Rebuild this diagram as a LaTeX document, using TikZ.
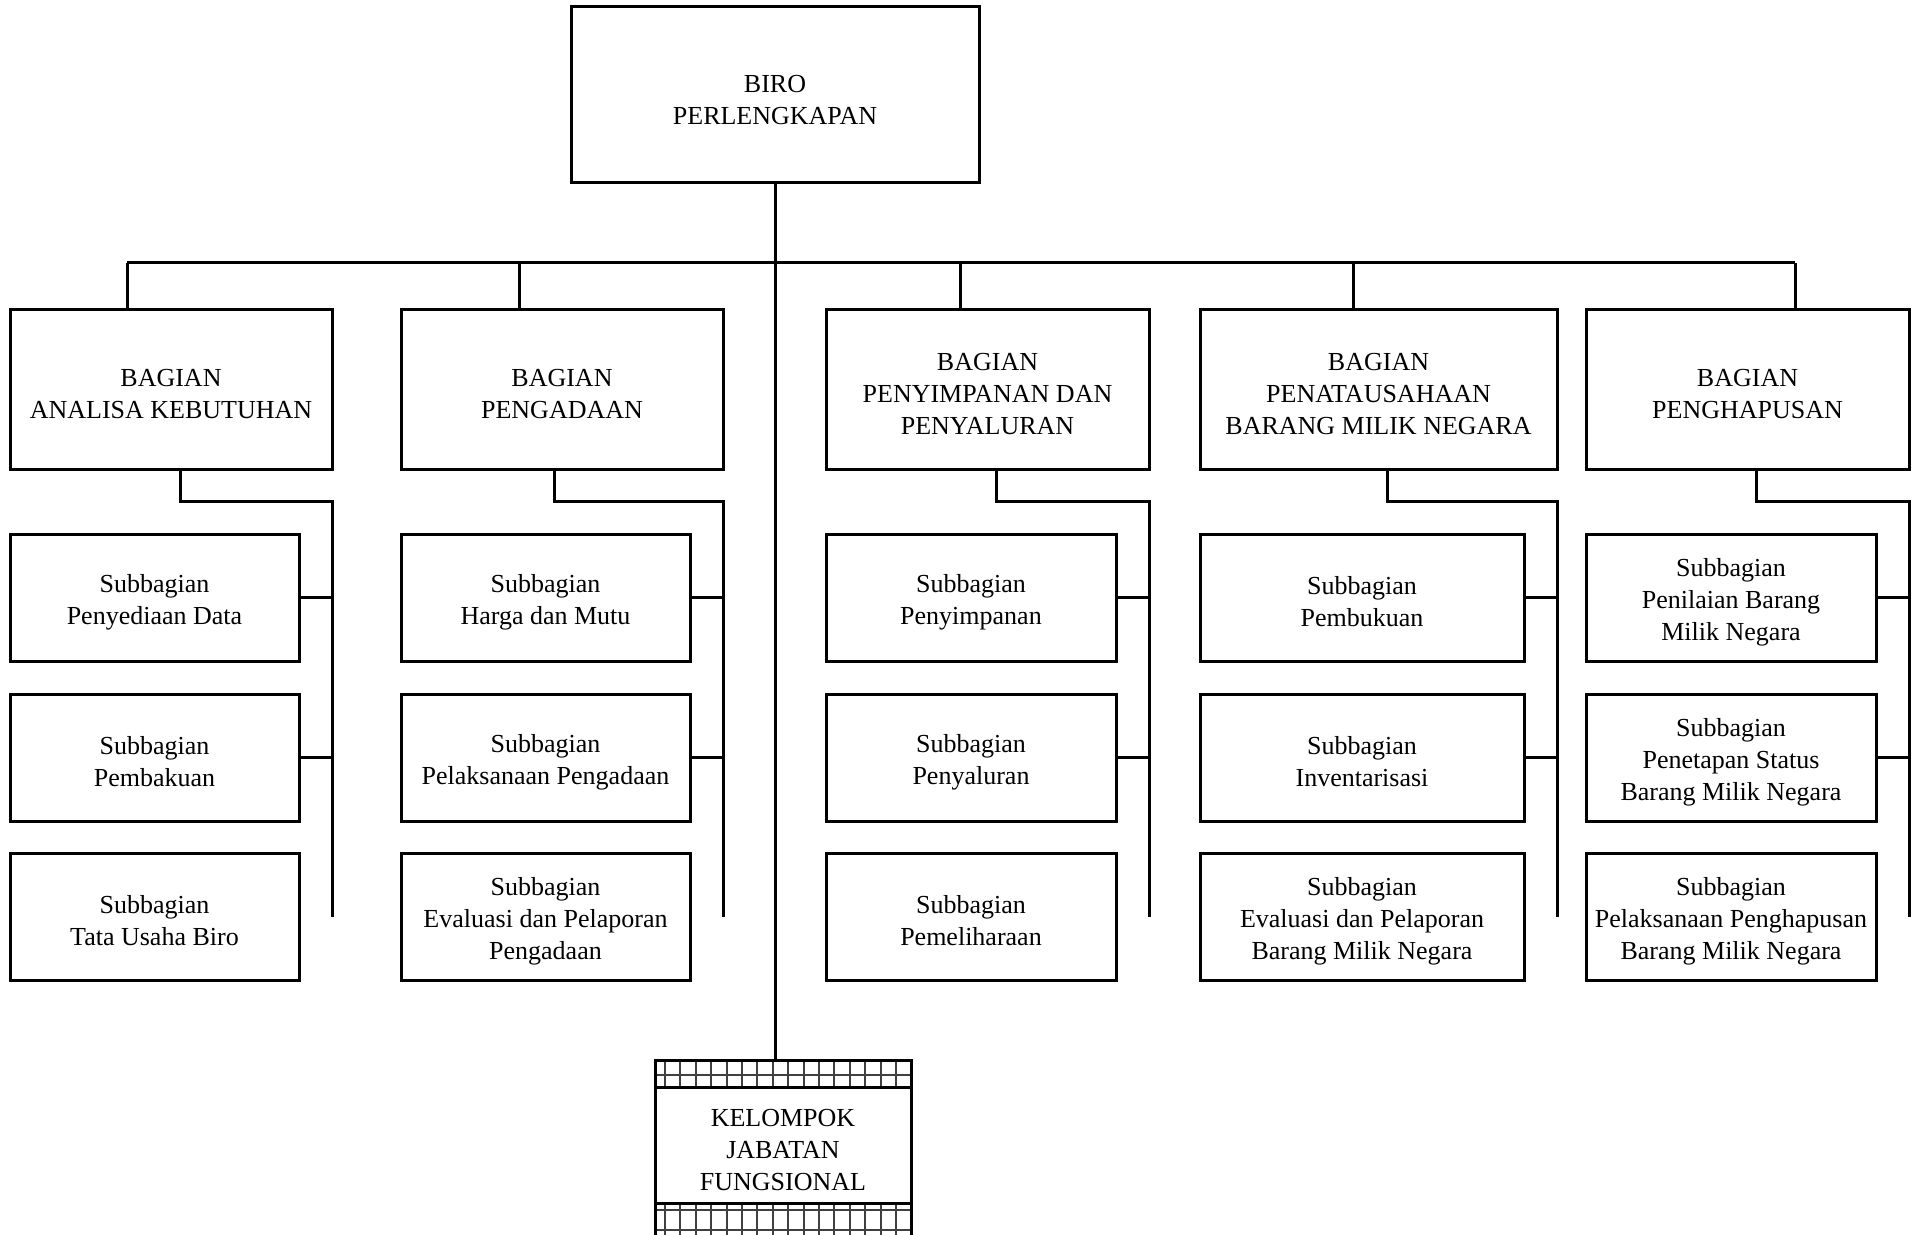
\documentclass[tikz,border=0pt]{standalone}
\usepackage{fontspec}
\setmainfont{Liberation Serif}
% taller first line, lowers the text block a little inside each box
\newcommand{\topstrut}{\rule{0pt}{13.5pt}}
\begin{document}
\begin{tikzpicture}[x=0.5pt,y=-0.5pt,
  box/.style={draw, line width=1.5pt, inner sep=0pt, outer sep=0pt,
              align=center, font=\fontsize{13}{16}\selectfont},
  bag/.style={box, minimum height=79.5pt},
  sub/.style={box, minimum height=63.5pt},
  link/.style={line width=1.5pt},
  gridline/.style={line width=1pt, draw=black!75}]
\useasboundingbox (0,0) rectangle (1916,1235);

% head of the bureau
\node[box, minimum width=204pt, minimum height=88pt] (biro) at (775,95) {\topstrut BIRO\\PERLENGKAPAN};

% divisions
\node[bag, minimum width=161pt]   (b1) at (171,389.5)    {\topstrut BAGIAN\\ANALISA KEBUTUHAN};
\node[bag, minimum width=161pt]   (b2) at (562,389.5)    {\topstrut BAGIAN\\PENGADAAN};
\node[bag, minimum width=161.5pt] (b3) at (987.5,389.5)  {\topstrut BAGIAN\\PENYIMPANAN DAN\\PENYALURAN};
\node[bag, minimum width=178.5pt] (b4) at (1378.5,389.5) {\topstrut BAGIAN\\PENATAUSAHAAN\\BARANG MILIK NEGARA};
\node[bag, minimum width=161.5pt] (b5) at (1747.5,389.5) {\topstrut BAGIAN\\PENGHAPUSAN};

% sub-divisions
\node[sub, minimum width=144.5pt] (s11) at (154.5,597.5) {\topstrut Subbagian\\Penyediaan Data};
\node[sub, minimum width=144.5pt] (s12) at (154.5,757.5) {\topstrut Subbagian\\Pembakuan};
\node[sub, minimum width=144.5pt] (s13) at (154.5,916.5) {\topstrut Subbagian\\Tata Usaha Biro};

\node[sub, minimum width=144.5pt] (s21) at (545.5,597.5) {\topstrut Subbagian\\Harga dan Mutu};
\node[sub, minimum width=144.5pt] (s22) at (545.5,757.5) {\topstrut Subbagian\\Pelaksanaan Pengadaan};
\node[sub, minimum width=144.5pt] (s23) at (545.5,916.5) {\topstrut Subbagian\\Evaluasi dan Pelaporan\\Pengadaan};

\node[sub, minimum width=145pt] (s31) at (971,597.5) {\topstrut Subbagian\\Penyimpanan};
\node[sub, minimum width=145pt] (s32) at (971,757.5) {\topstrut Subbagian\\Penyaluran};
\node[sub, minimum width=145pt] (s33) at (971,916.5) {\topstrut Subbagian\\Pemeliharaan};

\node[sub, minimum width=162pt] (s41) at (1362,597.5) {\topstrut Subbagian\\Pembukuan};
\node[sub, minimum width=162pt] (s42) at (1362,757.5) {\topstrut Subbagian\\Inventarisasi};
\node[sub, minimum width=162pt] (s43) at (1362,916.5) {\topstrut Subbagian\\Evaluasi dan Pelaporan\\Barang Milik Negara};

\node[sub, minimum width=145pt] (s51) at (1731,597.5) {\topstrut Subbagian\\Penilaian Barang\\Milik Negara};
\node[sub, minimum width=145pt] (s52) at (1731,757.5) {\topstrut Subbagian\\Penetapan Status\\Barang Milik Negara};
\node[sub, minimum width=145pt] (s53) at (1731,916.5) {\topstrut Subbagian\\Pelaksanaan Penghapusan\\Barang Milik Negara};

% functional group
\node[box, minimum width=128pt, minimum height=58pt] (kel) at (783,1145) {\topstrut KELOMPOK\\JABATAN\\FUNGSIONAL};
\coordinate (kt) at (655,1060);

% hatched bands above and below the functional group
\foreach \k in {0,...,15}
  \draw[gridline] (665+15.4*\k,1060) -- (665+15.4*\k,1087);
\draw[gridline] (655,1075) -- (911,1075);
\draw[link] (kt) rectangle (911,1087);
\begin{scope}
  \clip (0,0) rectangle (1916,1235);
  \foreach \k in {0,...,15}
    \draw[gridline] (665+15.4*\k,1203) -- (665+15.4*\k,1250);
  \draw[gridline] (655,1210) -- (911,1210);
  \draw[gridline] (655,1230) -- (911,1230);
  \draw[link] (655,1250) -- (655,1203) -- (911,1203) -- (911,1250);
\end{scope}

% main trunk and bus
\draw[link] (biro.south) -- (biro.south |- kt);
\coordinate (d1) at (127,263);
\coordinate (d2) at (519,263);
\coordinate (d3) at (960,263);
\coordinate (d4) at (1353,263);
\coordinate (d5) at (1795,263);
\draw[link] (d1) -- (d5);
\foreach \d/\b in {d1/b1,d2/b2,d3/b3,d4/b4,d5/b5}
  \draw[link] (\d) -- (\d |- \b.north);

% division to sub-division connectors
\coordinate (j1) at (180,501);
\coordinate (j2) at (554,501);
\coordinate (j3) at (996,501);
\coordinate (j4) at (1387,501);
\coordinate (j5) at (1756,501);
\foreach \j/\b/\s in {j1/b1/s1,j2/b2/s2,j3/b3/s3,j4/b4/s4,j5/b5/s5} {
  \draw[link] (\j |- \b.south) -- (\j) -| (\b.east |- \s3.east);
  \draw[link] (\s1.east) -- (\s1.east -| \b.east);
  \draw[link] (\s2.east) -- (\s2.east -| \b.east);
}
\end{tikzpicture}
\end{document}
